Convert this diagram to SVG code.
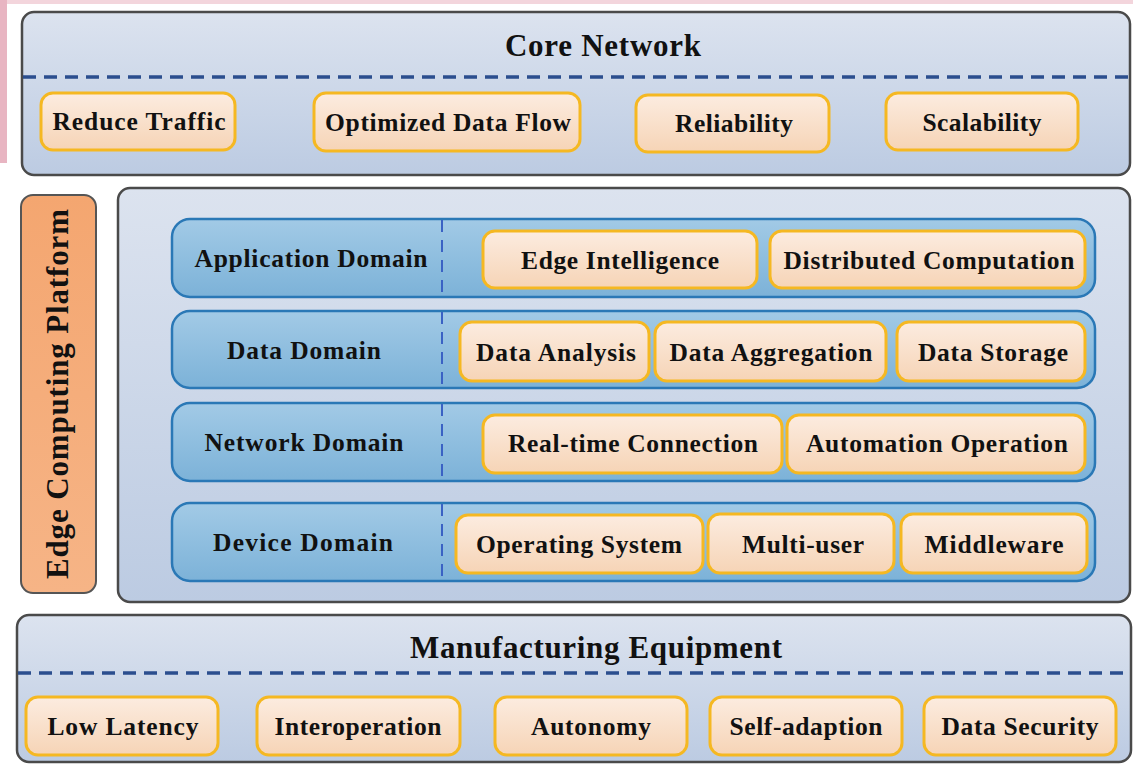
<svg xmlns="http://www.w3.org/2000/svg" width="1133" height="764" viewBox="0 0 1133 764">
<defs>
<linearGradient id="gPanel" x1="0" y1="0" x2="0" y2="1"><stop offset="0" stop-color="#dce3ef"/><stop offset="1" stop-color="#bccbe2"/></linearGradient>
<linearGradient id="gRow" x1="0" y1="0" x2="0" y2="1"><stop offset="0" stop-color="#a2cae6"/><stop offset="1" stop-color="#7cb2d8"/></linearGradient>
<linearGradient id="gItem" x1="0" y1="0" x2="0" y2="1"><stop offset="0" stop-color="#fcece0"/><stop offset="1" stop-color="#f6d4b6"/></linearGradient>
<linearGradient id="gSide" x1="0" y1="0" x2="0" y2="1"><stop offset="0" stop-color="#f4a670"/><stop offset="1" stop-color="#f6b486"/></linearGradient>
</defs>
<style>
.panel{fill:url(#gPanel);stroke:#4a4a4a;stroke-width:2.5}
.row{fill:url(#gRow);stroke:#2a78b6;stroke-width:2.5}
.item{fill:url(#gItem);stroke:#f5b822;stroke-width:3}
.side{fill:url(#gSide);stroke:#555;stroke-width:2}
.dash{stroke:#2b4e8e;stroke-width:3.5;stroke-dasharray:13 8;fill:none}
.vdash{stroke:#3a62c4;stroke-width:2;stroke-dasharray:12 8;fill:none}
text{font-family:"Liberation Serif","Times New Roman",serif;font-weight:bold;fill:#111;text-anchor:middle}
.t{font-size:25.5px}
.title{font-size:31px}
</style>
<rect x="0" y="0" width="1133" height="4" fill="#f3d5dc"/>
<rect x="0" y="0" width="7" height="163" fill="#e8b5c2"/>

<g id="core-network">
<rect class="panel" x="22" y="12" width="1108" height="163" rx="12"/>
<text class="title" x="603" y="56" textLength="196">Core Network</text>
</g>
<g id="reduce-traffic"><rect class="item" x="41" y="93" width="194" height="57" rx="12"/><text class="t" x="139" y="130" textLength="173">Reduce Traffic</text></g>
<g id="optimized-data-flow"><rect class="item" x="314" y="93" width="266" height="58" rx="12"/><text class="t" x="448" y="131" textLength="246">Optimized Data Flow</text></g>
<g id="reliability"><rect class="item" x="636" y="95" width="193" height="57" rx="12"/><text class="t" x="734" y="132" textLength="118">Reliability</text></g>
<g id="scalability"><rect class="item" x="886" y="93" width="192" height="57" rx="12"/><text class="t" x="982" y="131" textLength="119">Scalability</text></g>

<g id="edge-computing-platform-label">
<rect class="side" x="21" y="195" width="75" height="398" rx="12"/>
<text class="title" transform="translate(68,394) rotate(-90)" x="0" y="0" textLength="370">Edge Computing Platform</text>
</g>
<g id="edge-computing-platform">
<rect class="panel" x="118" y="188" width="1012" height="414" rx="12"/>
</g>

<g id="application-domain"><rect class="row" x="172" y="219" width="923" height="78" rx="18"/><text class="t" x="311" y="267" textLength="233">Application Domain</text></g>
<g id="data-domain"><rect class="row" x="172" y="311" width="923" height="77" rx="18"/><text class="t" x="304" y="359" textLength="154">Data Domain</text></g>
<g id="network-domain"><rect class="row" x="172" y="403" width="923" height="78" rx="18"/><text class="t" x="304" y="451" textLength="199">Network Domain</text></g>
<g id="device-domain"><rect class="row" x="172" y="503" width="923" height="78" rx="18"/><text class="t" x="303" y="551" textLength="180">Device  Domain</text></g>

<g id="edge-intelligence"><rect class="item" x="483" y="231" width="274" height="57" rx="12"/><text class="t" x="620" y="269" textLength="198">Edge Intelligence</text></g>
<g id="distributed-computation"><rect class="item" x="770" y="231" width="315" height="57" rx="12"/><text class="t" x="929" y="269" textLength="291">Distributed Computation</text></g>
<g id="data-analysis"><rect class="item" x="460" y="322" width="189" height="59" rx="12"/><text class="t" x="556" y="361" textLength="160">Data Analysis</text></g>
<g id="data-aggregation"><rect class="item" x="655" y="322" width="231" height="59" rx="12"/><text class="t" x="771" y="361" textLength="203">Data Aggregation</text></g>
<g id="data-storage"><rect class="item" x="897" y="322" width="188" height="59" rx="12"/><text class="t" x="993" y="361" textLength="150">Data Storage</text></g>
<g id="real-time-connection"><rect class="item" x="483" y="415" width="299" height="58" rx="12"/><text class="t" x="633" y="452" textLength="250">Real-time Connection</text></g>
<g id="automation-operation"><rect class="item" x="787" y="415" width="298" height="58" rx="12"/><text class="t" x="937" y="452" textLength="262">Automation Operation</text></g>
<g id="operating-system"><rect class="item" x="456" y="515" width="247" height="58" rx="12"/><text class="t" x="579" y="553" textLength="206">Operating System</text></g>
<g id="multi-user"><rect class="item" x="708" y="514" width="186" height="59" rx="12"/><text class="t" x="803" y="553" textLength="122">Multi-user</text></g>
<g id="middleware"><rect class="item" x="901" y="514" width="186" height="59" rx="12"/><text class="t" x="994" y="553" textLength="139">Middleware</text></g>

<g id="manufacturing-equipment">
<rect class="panel" x="17" y="615" width="1114" height="147" rx="12"/>
<text class="title" x="596" y="658" textLength="372">Manufacturing Equipment</text>
</g>
<g id="low-latency"><rect class="item" x="26" y="697" width="192" height="58" rx="12"/><text class="t" x="123" y="735" textLength="151">Low Latency</text></g>
<g id="interoperation"><rect class="item" x="257" y="697" width="203" height="58" rx="12"/><text class="t" x="358" y="735" textLength="167">Interoperation</text></g>
<g id="autonomy"><rect class="item" x="495" y="697" width="192" height="58" rx="12"/><text class="t" x="591" y="735" textLength="120">Autonomy</text></g>
<g id="self-adaption"><rect class="item" x="710" y="697" width="192" height="58" rx="12"/><text class="t" x="806" y="735" textLength="153">Self-adaption</text></g>
<g id="data-security"><rect class="item" x="924" y="697" width="192" height="58" rx="12"/><text class="t" x="1020" y="735" textLength="157">Data Security</text></g>

<g id="connectors">
<line class="dash" x1="23" y1="77" x2="1129" y2="77"/>
<line class="dash" x1="18" y1="673" x2="1130" y2="673"/>
<line class="vdash" x1="442" y1="220" x2="442" y2="296"/>
<line class="vdash" x1="442" y1="312" x2="442" y2="387"/>
<line class="vdash" x1="442" y1="404" x2="442" y2="480"/>
<line class="vdash" x1="442" y1="504" x2="442" y2="580"/>
</g>
</svg>
